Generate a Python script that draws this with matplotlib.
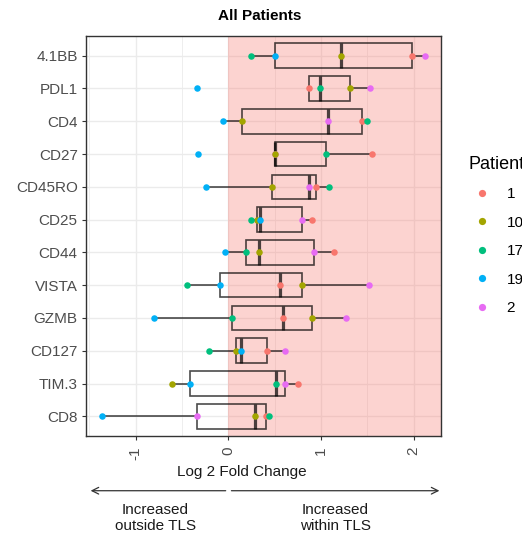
import numpy as np
import matplotlib
matplotlib.use("Agg")
import matplotlib.pyplot as plt
from matplotlib.lines import Line2D

plt.rcParams['font.family'] = ['Liberation Sans', 'DejaVu Sans']

markers = ['4.1BB', 'PDL1', 'CD4', 'CD27', 'CD45RO', 'CD25', 'CD44',
           'VISTA', 'GZMB', 'CD127', 'TIM.3', 'CD8']
patients = ['1', '10', '17', '19', '2']
patient_colors = ['#F8766D', '#A3A500', '#00BF7D', '#00B0F6', '#E76BF3']

# log2 fold change per marker (same order as markers), one list per patient
lfc_p1 = [1.98, 0.87, 1.44, 1.55, 0.95, 0.90, 1.14, 0.56, 0.59, 0.42, 0.75, 0.41]
lfc_p10 = [1.22, 1.31, 0.15, 0.50, 0.47, 0.31, 0.33, 0.79, 0.90, 0.08, -0.61, 0.29]
lfc_p17 = [0.25, 0.99, 1.50, 1.05, 1.09, 0.24, 0.19, -0.45, 0.04, -0.21, 0.51, 0.44]
lfc_p19 = [0.50, -0.34, -0.06, -0.33, -0.24, 0.34, -0.03, -0.09, -0.80, 0.14, -0.41, -1.36]
lfc_p2 = [2.12, 1.53, 1.08, 0.50, 0.87, 0.79, 0.92, 1.52, 1.27, 0.61, 0.61, -0.34]

x_ticks = [-1, 0, 1, 2]
x_tick_labels = ['-1', '0', '1', '2']


def main():
    series = [lfc_p1, lfc_p10, lfc_p17, lfc_p19, lfc_p2]
    vals = np.array(series)            # patients x markers
    n = len(markers)
    ypos = np.arange(n, 0, -1)         # first marker on top

    fig = plt.figure(figsize=(5.22, 5.36), dpi=100)
    ax = fig.add_axes([86 / 522, 1 - 436 / 536, 355 / 522, 400 / 536])

    # x range like ggplot: data range + 5% each side
    lo, hi = vals.min(), vals.max()
    pad = 0.05 * (hi - lo)
    ax.set_xlim(lo - pad, hi + pad)
    ax.set_ylim(0.4, n + 0.6)

    # grid (theme_bw look)
    ax.set_xticks(x_ticks)
    ax.set_xticks([-1.5, -0.5, 0.5, 1.5], minor=True)
    ax.set_yticks(ypos)
    ax.grid(True, which='major', color='#EBEBEB', linewidth=1.0, zorder=0)
    ax.grid(True, which='minor', axis='x', color='#EBEBEB', linewidth=0.6, zorder=0)
    ax.set_axisbelow(True)

    # shaded "increased within TLS" region
    ax.axvspan(0, hi + pad, color='#F8766D', alpha=0.32, lw=0, zorder=1)

    # boxplots per marker (same quantile rule as R type 7)
    box_col = (0, 0, 0, 0.7)
    ax.boxplot([vals[:, i] for i in range(n)], positions=ypos, vert=False,
               widths=0.75, showfliers=False, showcaps=False, patch_artist=True,
               manage_ticks=False,
               boxprops=dict(facecolor='none', edgecolor=box_col, linewidth=1.2),
               whiskerprops=dict(color=box_col, linewidth=1.2),
               medianprops=dict(color=box_col, linewidth=2.3),
               zorder=2)

    # points, patient 2 first so the others sit on top
    order = [4, 0, 1, 2, 3]
    for k in order:
        ax.scatter(series[k], ypos, s=22, color=patient_colors[k],
                   linewidths=0, zorder=3)

    # axes styling
    ax.set_yticklabels(markers)
    ax.set_xticklabels(x_tick_labels, rotation=90)
    ax.tick_params(axis='both', which='major', colors='#333333', length=3.2,
                   width=0.8, labelsize=11, labelcolor='#4D4D4D')
    ax.tick_params(axis='y', pad=2.8)
    ax.tick_params(axis='x', pad=4.5)
    ax.tick_params(which='minor', length=0)
    for sp in ax.spines.values():
        sp.set_color('#333333')
        sp.set_linewidth(1.0)

    ax.set_xlabel('Log 2 Fold Change', fontsize=11, color='#1A1A1A')
    ax.xaxis.label.set_va('center')
    ax.xaxis.set_label_coords(0.4394, -0.089)

    ax.text(0.488, 1.051, 'All Patients', transform=ax.transAxes,
            ha='center', va='center', fontsize=11, fontweight='bold')

    # direction arrows under the axis
    arr = dict(arrowstyle='->', color='#333333', lw=0.9, mutation_scale=12,
               shrinkA=0, shrinkB=0)
    ax.annotate('', xy=(0.013, -0.1368), xytext=(0.3935, -0.1368),
                xycoords='axes fraction', arrowprops=arr, annotation_clip=False)
    ax.annotate('', xy=(0.9955, -0.1368), xytext=(0.4096, -0.1368),
                xycoords='axes fraction', arrowprops=arr, annotation_clip=False)
    ax.text(0.196, -0.204, 'Increased\noutside TLS', transform=ax.transAxes,
            ha='center', va='center', fontsize=11, color='#1A1A1A')
    ax.text(0.702, -0.204, 'Increased\nwithin TLS', transform=ax.transAxes,
            ha='center', va='center', fontsize=11, color='#1A1A1A')

    # legend (runs off the right edge, as in the source image)
    handles = [Line2D([], [], ls='none', marker='o', ms=5.2, color=c,
                      markeredgewidth=0) for c in patient_colors]
    fig.legend(handles, patients, title='Patient', loc='upper left',
               bbox_to_anchor=(461 / 522, 1 - 148 / 536), frameon=False,
               borderpad=0, handlelength=1.8, handletextpad=0.69,
               labelspacing=0.95, fontsize=11, title_fontsize=13,
               alignment='left')

    fig.savefig('out.png', dpi=100)


if __name__ == "__main__":
    main()
